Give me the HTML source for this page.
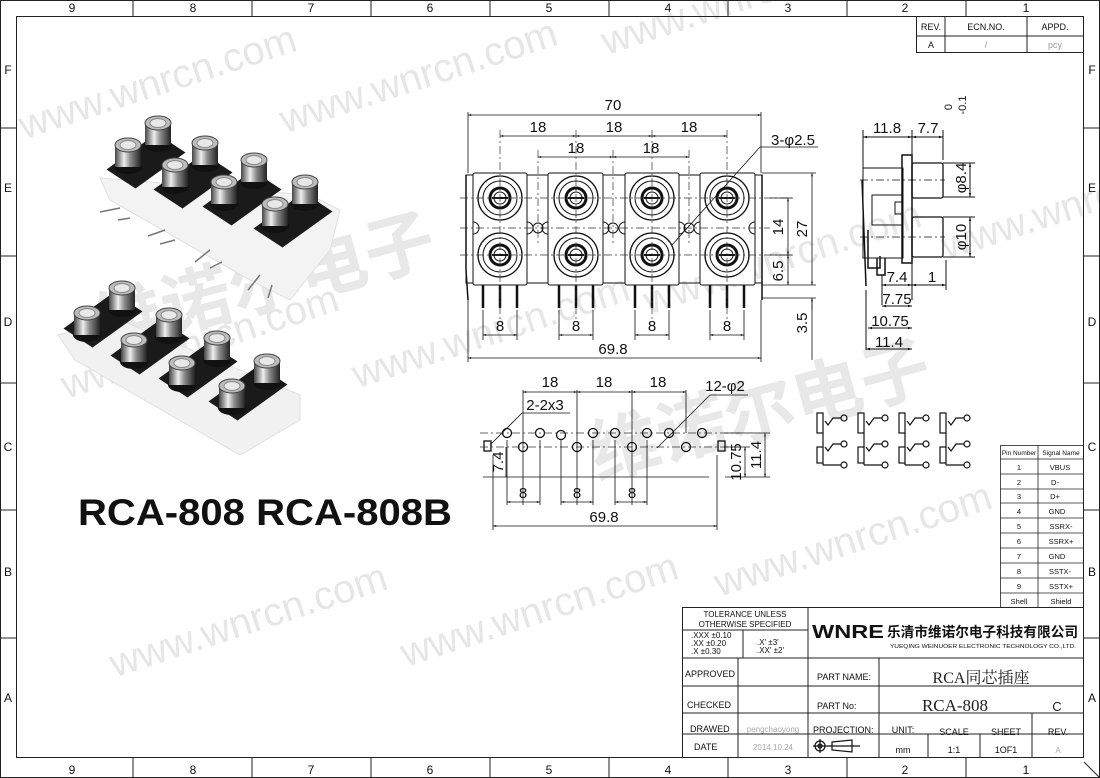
<!DOCTYPE html>
<html><head><meta charset="utf-8"><style>
html,body{margin:0;padding:0;background:#fff;}
svg{display:block;font-family:"Liberation Sans","Noto Sans CJK SC",sans-serif;}
.t{font-size:15px;fill:#111;}
.s{font-size:9px;fill:#111;}
.wm{font-size:40px;fill:#e6e6e6;}
</style></head><body>
<svg width="1100" height="778" viewBox="0 0 1100 778" xmlns="http://www.w3.org/2000/svg">
<defs>
<marker id="a" viewBox="0 0 10 10" refX="10" refY="5" markerWidth="8" markerHeight="4" orient="auto-start-reverse"><path d="M0,2L10,5L0,8z" fill="#111"/></marker>
<g id="jk" fill="none" stroke="#111">
<circle r="22" stroke-width="1.3"/><circle r="17"/><circle r="10" stroke-width="3"/><circle r="6"/><line x1="-8" y1="0" x2="8" y2="0" stroke-width="2"/>
</g>
<g id="sym" fill="none" stroke="#111" stroke-width="1.2">
<rect x="0" y="0" width="6" height="20"/><rect x="0" y="34" width="6" height="16"/>
<line x1="6" y1="50" x2="6" y2="52"/>
<polyline points="6,52 24,52"/><circle cx="27" cy="52" r="3"/>
<polyline points="8,8 11,12 16,5 24,5"/><circle cx="27" cy="5" r="3"/>
<polyline points="8,34 11,38 16,31 24,31"/><circle cx="27" cy="31" r="3"/>
<line x1="6" y1="20" x2="6" y2="34"/>
</g>
<linearGradient id="sil" x1="0" x2="1" y1="0" y2="0"><stop offset="0" stop-color="#444"/><stop offset="0.35" stop-color="#eee"/><stop offset="0.6" stop-color="#888"/><stop offset="1" stop-color="#222"/></linearGradient>
<g id="pj">
<ellipse cx="0" cy="2" rx="14" ry="7" fill="#111"/>
<rect x="-13" y="-20" width="26" height="22" fill="url(#sil)"/>
<ellipse cx="0" cy="-20" rx="13" ry="7" fill="#bdbdbd" stroke="#444" stroke-width="1"/>
<ellipse cx="0" cy="-20" rx="8" ry="4.5" fill="#e8e8e8" stroke="#888"/>
</g>
<g id="plate">
<polygon points="-39.5,8.5 10.5,-27.5 39.5,-8.5 -10.5,27.5" fill="#1a1a1a"/>
</g>
</defs>

<!-- watermarks -->
<g transform="rotate(-18)">
<text class="wm" x="-20" y="140">www.wnrcn.com</text>
<text class="wm" x="230" y="215">www.wnrcn.com</text>
<text class="wm" x="560" y="240">www.wnrcn.com</text>
<text class="wm" x="-60" y="400">www.wnrcn.com</text>
<text class="wm" x="220" y="480">www.wnrcn.com</text>
<text class="wm" x="520" y="500">www.wnrcn.com</text>
<text class="wm" x="820" y="540">www.wnrcn.com</text>
<text class="wm" x="-100" y="680">www.wnrcn.com</text>
<text class="wm" x="180" y="760">www.wnrcn.com</text>
<text class="wm" x="500" y="790">www.wnrcn.com</text>
</g>
<g transform="rotate(-15 250 250)"><text x="80" y="310" style="font-size:70px;fill:#e8e8e8;font-family:'Noto Sans CJK SC',sans-serif;font-weight:bold">维诺尔电子</text></g>
<g transform="rotate(-15 700 400)"><text x="580" y="450" style="font-size:70px;fill:#e8e8e8;font-family:'Noto Sans CJK SC',sans-serif;font-weight:bold">维诺尔电子</text></g>

<!-- frame -->
<g fill="none" stroke="#222" stroke-width="1">
<rect x="0.5" y="0.5" width="1099" height="777"/>
<rect x="16.5" y="16.5" width="1067" height="741"/>
<path d="M133 0V16M252 0V16M371 0V16M490 0V16M609 0V16M728 0V16M847 0V16M966 0V16
M133 758V778M252 758V778M371 758V778M490 758V778M609 758V778M728 758V778M847 758V778M966 758V778
M0 128H16M0 256H16M0 383H16M0 510H16M0 638H16M1084 128H1100M1084 256H1100M1084 383H1100M1084 510H1100M1084 638H1100
M1084 762L1100 778"/>
</g>
<g class="t" text-anchor="middle" style="font-size:12px">
<text x="72" y="12">9</text><text x="193" y="12">8</text><text x="311" y="12">7</text><text x="430" y="12">6</text><text x="549" y="12">5</text><text x="668" y="12">4</text><text x="788" y="12">3</text><text x="905" y="12">2</text><text x="1026" y="12">1</text>
<text x="72" y="774">9</text><text x="193" y="774">8</text><text x="311" y="774">7</text><text x="430" y="774">6</text><text x="549" y="774">5</text><text x="668" y="774">4</text><text x="788" y="774">3</text><text x="905" y="774">2</text><text x="1026" y="774">1</text>
<text x="8" y="74">F</text><text x="8" y="192">E</text><text x="8" y="326">D</text><text x="8" y="451">C</text><text x="8" y="576">B</text><text x="8" y="702">A</text>
<text x="1092" y="74">F</text><text x="1092" y="192">E</text><text x="1092" y="326">D</text><text x="1092" y="451">C</text><text x="1092" y="576">B</text><text x="1092" y="702">A</text>
</g>

<!-- revision block -->
<g fill="none" stroke="#222"><rect x="916.5" y="16.5" width="167" height="36"/><path d="M916 36H1084M945 16V52M1027 16V52"/></g>
<g class="s" text-anchor="middle"><text x="931" y="30">REV.</text><text x="986" y="30">ECN.NO.</text><text x="1055" y="30">APPD.</text>
<text x="931" y="48">A</text><text x="986" y="48" fill="#999">/</text><text x="1055" y="48" fill="#999">pcy</text></g>

<!-- photos -->
<g>
<polygon points="100,178 110,200 250,280 290,300 330,250 340,210 310,195" fill="#f3f3f3" stroke="#e0e0e0"/>
<g stroke="#777" stroke-width="1.5"><line x1="120" y1="208" x2="100" y2="212"/><line x1="130" y1="218" x2="118" y2="220"/><line x1="165" y1="230" x2="148" y2="236"/><line x1="175" y1="240" x2="160" y2="244"/><line x1="210" y1="250" x2="195" y2="262"/><line x1="222" y1="262" x2="210" y2="268"/><line x1="260" y1="275" x2="248" y2="290"/><line x1="272" y1="285" x2="268" y2="298"/></g>
<use href="#plate" x="146" y="161"/><use href="#plate" x="193" y="181"/><use href="#plate" x="242" y="198"/><use href="#plate" x="293" y="220"/>
<use href="#pj" x="158" y="143"/><use href="#pj" x="128" y="165"/>
<use href="#pj" x="205" y="163"/><use href="#pj" x="175" y="185"/>
<use href="#pj" x="254" y="180"/><use href="#pj" x="224" y="202"/>
<use href="#pj" x="305" y="202"/><use href="#pj" x="275" y="224"/>
</g>
<g>
<polygon points="58,335 75,360 240,455 300,420 300,395 120,320" fill="#f1f1f1" stroke="#e0e0e0"/>
<use href="#plate" x="103" y="320"/><use href="#plate" x="150" y="347"/><use href="#plate" x="198" y="370"/><use href="#plate" x="248" y="393"/>
<use href="#pj" x="122" y="308"/><use href="#pj" x="87" y="333"/>
<use href="#pj" x="169" y="335"/><use href="#pj" x="134" y="360"/>
<use href="#pj" x="217" y="358"/><use href="#pj" x="182" y="383"/>
<use href="#pj" x="267" y="381"/><use href="#pj" x="232" y="406"/>
</g>
<text x="78" y="525" textLength="374" lengthAdjust="spacingAndGlyphs" style="font-size:37px;font-weight:bold;fill:#111">RCA-808  RCA-808B</text>

<!-- front view -->
<g fill="none" stroke="#111" stroke-width="1">
<rect x="466" y="175" width="296" height="108"/>
<rect x="473" y="173" width="54" height="112" fill="#fff" rx="2"/>
<rect x="548" y="173" width="55" height="112" fill="#fff" rx="2"/>
<rect x="625" y="173" width="54" height="112" fill="#fff" rx="2"/>
<rect x="700" y="173" width="55" height="112" fill="#fff" rx="2"/>
<path d="M466 175V270M466 270L468 300M762 175V300" stroke-width="1.5"/>
<circle cx="538" cy="228" r="5"/><circle cx="613" cy="228" r="5"/><circle cx="689" cy="228" r="5"/>
<path d="M527 222a6 6 0 0 1 0 12M548 222a6 6 0 0 0 0 12M603 222a6 6 0 0 1 0 12M625 222a6 6 0 0 0 0 12M679 222a6 6 0 0 1 0 12M700 222a6 6 0 0 0 0 12M473 222a6 6 0 0 1 0 12M755 222a6 6 0 0 0 0 12"/>
</g>
<use href="#jk" x="500" y="198"/><use href="#jk" x="576" y="198"/><use href="#jk" x="652" y="198"/><use href="#jk" x="727" y="198"/>
<use href="#jk" x="500" y="255"/><use href="#jk" x="576" y="255"/><use href="#jk" x="652" y="255"/><use href="#jk" x="727" y="255"/>
<g stroke="#111" stroke-width="2.5">
<path d="M483 285V308M500 285V308M517 285V308M559 285V308M576 285V308M593 285V308M635 285V308M652 285V308M669 285V308M710 285V308M727 285V308M744 285V308"/>
</g>
<g stroke="#333" stroke-width="0.7" stroke-dasharray="8 3 2 3" fill="none">
<path d="M460 198H795M460 228H770M460 255H795M500 130V320M576 130V320M652 130V320M727 130V320M538 150V245M613 150V245M689 150V245"/>
</g>
<g stroke="#111" stroke-width="0.8" fill="none">
<path d="M468 112V173M761 112V173M468 300V362M761 300V362M483 310V340M517 310V340M559 310V340M593 310V340M635 310V340M669 310V340M710 310V340M744 310V340M762 173H816M762 285H816M770 198H792M770 255H792M762 298H816"/>
<line x1="468" y1="115" x2="761" y2="115" marker-start="url(#a)" marker-end="url(#a)"/>
<line x1="500" y1="136" x2="576" y2="136" marker-start="url(#a)" marker-end="url(#a)"/>
<line x1="576" y1="136" x2="652" y2="136" marker-start="url(#a)" marker-end="url(#a)"/>
<line x1="652" y1="136" x2="727" y2="136" marker-start="url(#a)" marker-end="url(#a)"/>
<line x1="538" y1="157" x2="613" y2="157" marker-start="url(#a)" marker-end="url(#a)"/>
<line x1="613" y1="157" x2="689" y2="157" marker-start="url(#a)" marker-end="url(#a)"/>
<line x1="812" y1="173" x2="812" y2="285" marker-start="url(#a)" marker-end="url(#a)"/>
<line x1="788" y1="198" x2="788" y2="255" marker-start="url(#a)" marker-end="url(#a)"/>
<line x1="788" y1="255" x2="788" y2="285" marker-start="url(#a)" marker-end="url(#a)"/>
<line x1="812" y1="310" x2="812" y2="298" marker-end="url(#a)"/><line x1="812" y1="298" x2="812" y2="360"/>
<line x1="483" y1="335" x2="517" y2="335" marker-start="url(#a)" marker-end="url(#a)"/>
<line x1="559" y1="335" x2="593" y2="335" marker-start="url(#a)" marker-end="url(#a)"/>
<line x1="635" y1="335" x2="669" y2="335" marker-start="url(#a)" marker-end="url(#a)"/>
<line x1="710" y1="335" x2="744" y2="335" marker-start="url(#a)" marker-end="url(#a)"/>
<line x1="468" y1="358" x2="761" y2="358" marker-start="url(#a)" marker-end="url(#a)"/>
<polyline points="818,147 760,147 672,245"/>
</g>
<g class="t" text-anchor="middle">
<text x="613" y="110">70</text><text x="538" y="132">18</text><text x="614" y="132">18</text><text x="689" y="132">18</text>
<text x="576" y="153">18</text><text x="651" y="153">18</text>
<text x="500" y="331">8</text><text x="576" y="331">8</text><text x="652" y="331">8</text><text x="727" y="331">8</text>
<text x="613" y="354">69.8</text><text x="793" y="145">3-φ2.5</text>
<text transform="translate(807,229) rotate(-90)">27</text>
<text transform="translate(783,227) rotate(-90)">14</text>
<text transform="translate(783,271) rotate(-90)">6.5</text>
<text transform="translate(807,323) rotate(-90)">3.5</text>
</g>

<!-- side view -->
<g fill="none" stroke="#111" stroke-width="1">
<rect x="863" y="168" width="40" height="90"/>
<rect x="872" y="195" width="30" height="30"/>
<rect x="902" y="155" width="10" height="108" stroke-width="1.5"/>
<rect x="912" y="163" width="31" height="35" rx="2" stroke-width="1.3"/>
<rect x="912" y="217" width="31" height="40" rx="2" stroke-width="1.3"/>
<rect x="895" y="202" width="8" height="12"/>
<path d="M862 180L866 286M868 230V268H880V256M877 258V275H885V258" stroke-width="1.5"/>
<path d="M860 180H945M860 237H945" stroke-dasharray="8 3 2 3" stroke-width="0.7"/>
<path d="M863 130V168M912 130V155M943 130V160M943 163H975M943 197H975M943 217H975M943 257H975M866 290V350M882 275V305M912 260V300M946 260V290"/>
<line x1="863" y1="137" x2="912" y2="137" marker-start="url(#a)" marker-end="url(#a)"/>
<line x1="912" y1="137" x2="943" y2="137" marker-start="url(#a)" marker-end="url(#a)"/>
<line x1="970" y1="163" x2="970" y2="197" marker-start="url(#a)" marker-end="url(#a)"/>
<line x1="970" y1="217" x2="970" y2="257" marker-start="url(#a)" marker-end="url(#a)"/>
<line x1="882" y1="285" x2="912" y2="285" marker-start="url(#a)" marker-end="url(#a)"/>
<line x1="912" y1="285" x2="946" y2="285" marker-start="url(#a)" marker-end="url(#a)"/>
<line x1="882" y1="306" x2="912" y2="306" marker-start="url(#a)" marker-end="url(#a)"/>
<line x1="868" y1="328" x2="912" y2="328" marker-start="url(#a)" marker-end="url(#a)"/>
<line x1="866" y1="349" x2="912" y2="349" marker-start="url(#a)" marker-end="url(#a)"/>
</g>
<g class="t" text-anchor="middle">
<text x="887" y="133">11.8</text><text x="928" y="133">7.7</text>
<text x="897" y="282">7.4</text><text x="932" y="282">1</text>
<text x="897" y="304">7.75</text><text x="890" y="326">10.75</text><text x="889" y="347">11.4</text>
<text transform="translate(966,178) rotate(-90)">φ8.4</text>
<text transform="translate(952,107) rotate(-90)" style="font-size:11px">0</text>
<text transform="translate(966,105) rotate(-90)" style="font-size:11px">-0.1</text>
<text transform="translate(966,237) rotate(-90)">φ10</text>
</g>

<!-- bottom view -->
<g fill="none" stroke="#111" stroke-width="1.3">
<circle cx="507" cy="433" r="4.5"/><circle cx="540" cy="433" r="4.5"/><circle cx="561" cy="435" r="4.5"/><circle cx="593" cy="433" r="4.5"/><circle cx="615" cy="433" r="4.5"/><circle cx="647" cy="433" r="4.5"/><circle cx="669" cy="433" r="4.5"/><circle cx="702" cy="433" r="4.5"/>
<circle cx="523" cy="447" r="4.5"/><circle cx="577" cy="447" r="4.5"/><circle cx="632" cy="447" r="4.5"/><circle cx="686" cy="447" r="4.5"/>
<rect x="484" y="441" width="7" height="10"/><rect x="718" y="441" width="7" height="10"/>
</g>
<g stroke="#333" stroke-width="0.7" fill="none" stroke-dasharray="8 3 2 3"><path d="M480 433H740M480 447H740"/></g>
<g stroke="#111" stroke-width="0.8" fill="none">
<path d="M483 477H709M523 390V505M577 390V505M632 390V505M686 390V433M507 440V505M540 440V505M561 440V505M593 440V505M615 440V505M647 440V505M493 455V530M717 455V530M724 433H770M724 447H750M725 477H770"/>
<line x1="523" y1="392" x2="577" y2="392" marker-start="url(#a)" marker-end="url(#a)"/>
<line x1="577" y1="392" x2="632" y2="392" marker-start="url(#a)" marker-end="url(#a)"/>
<line x1="632" y1="392" x2="686" y2="392" marker-start="url(#a)" marker-end="url(#a)"/>
<line x1="507" y1="502" x2="540" y2="502" marker-start="url(#a)" marker-end="url(#a)"/>
<line x1="561" y1="502" x2="593" y2="502" marker-start="url(#a)" marker-end="url(#a)"/>
<line x1="615" y1="502" x2="647" y2="502" marker-start="url(#a)" marker-end="url(#a)"/>
<line x1="493" y1="526" x2="717" y2="526" marker-start="url(#a)" marker-end="url(#a)"/>
<line x1="745" y1="447" x2="745" y2="477" marker-start="url(#a)" marker-end="url(#a)"/>
<line x1="765" y1="433" x2="765" y2="477" marker-start="url(#a)" marker-end="url(#a)"/>
<line x1="506" y1="447" x2="506" y2="477"/>
<polyline points="570,413 522,413 490,445"/>
<polyline points="748,395 710,395 657,448"/>
</g>
<g class="t" text-anchor="middle">
<text x="550" y="387">18</text><text x="604" y="387">18</text><text x="658" y="387">18</text>
<text x="545" y="410">2-2x3</text><text x="725" y="391">12-φ2</text>
<text x="523" y="498">8</text><text x="577" y="498">8</text><text x="632" y="498">8</text>
<text x="604" y="522">69.8</text>
<text transform="translate(503,462) rotate(-90)">7.4</text>
<text transform="translate(741,462) rotate(-90)">10.75</text>
<text transform="translate(761,455) rotate(-90)">11.4</text>
</g>

<!-- schematic -->
<use href="#sym" x="817" y="413"/><use href="#sym" x="858" y="413"/><use href="#sym" x="899" y="413"/><use href="#sym" x="940" y="413"/>

<!-- pin table -->
<g fill="none" stroke="#222" stroke-width="0.8">
<rect x="1000.5" y="445.5" width="83" height="162"/>
<path d="M1038 445V608M1000 459H1084M1000 474H1084M1000 489H1084M1000 503H1084M1000 518H1084M1000 533H1084M1000 548H1084M1000 563H1084M1000 578H1084M1000 593H1084"/>
</g>
<g style="font-size:7.5px" fill="#111" text-anchor="middle">
<text x="1019" y="455" style="font-size:6.5px">Pin Number</text><text x="1061" y="455" style="font-size:6.5px">Signal Name</text>
<text x="1019" y="470">1</text><text x="1060" y="470">VBUS</text>
<text x="1019" y="485">2</text><text x="1055" y="485">D-</text>
<text x="1019" y="499">3</text><text x="1055" y="499">D+</text>
<text x="1019" y="514">4</text><text x="1057" y="514">GND</text>
<text x="1019" y="529">5</text><text x="1061" y="529">SSRX-</text>
<text x="1019" y="544">6</text><text x="1061" y="544">SSRX+</text>
<text x="1019" y="559">7</text><text x="1057" y="559">GND</text>
<text x="1019" y="574">8</text><text x="1060" y="574">SSTX-</text>
<text x="1019" y="589">9</text><text x="1061" y="589">SSTX+</text>
<text x="1019" y="604">Shell</text><text x="1061" y="604">Shield</text>
</g>

<!-- title block -->
<rect x="683" y="608" width="400" height="149" fill="#fff"/>
<g fill="none" stroke="#222" stroke-width="1">
<rect x="682.5" y="607.5" width="401" height="150"/>
<path d="M682 658H879M808 607V758M879 658V758M682 686H1084M682 713H1084M682 734H1084M738 658V758M928 734V758M980 734V758M1032 713V758M682 630H808M743 630V658M808 658H1084"/>
</g>
<g style="font-size:8px" fill="#111">
<text x="745" y="617" text-anchor="middle">TOLERANCE UNLESS</text>
<text x="745" y="627" text-anchor="middle">OTHERWISE SPECIFIED</text>
<text x="691" y="638">.XXX  ±0.10</text><text x="691" y="646">.XX    ±0.20</text><text x="691" y="654">.X      ±0.30</text>
<text x="757" y="645">.X'      ±3'</text><text x="757" y="653">.XX'    ±2'</text>
<text x="685" y="677" style="font-size:9px">APPROVED</text>
<text x="687" y="708" style="font-size:9px">CHECKED</text>
<text x="690" y="732" style="font-size:9px">DRAWED</text>
<text x="694" y="750" style="font-size:9px">DATE</text>
<text x="773" y="732" fill="#aaa" text-anchor="middle">pengchaoyong</text>
<text x="773" y="750" fill="#aaa" text-anchor="middle">2014.10.24</text>
<text x="817" y="680" style="font-size:9px">PART  NAME:</text>
<text x="817" y="709" style="font-size:9px">PART  No:</text>
<text x="813" y="733" style="font-size:9px">PROJECTION:</text>
<text x="903" y="733" text-anchor="middle" style="font-size:9px">UNIT:</text>
<text x="954" y="735" text-anchor="middle" style="font-size:9px">SCALE</text>
<text x="1006" y="735" text-anchor="middle" style="font-size:9px">SHEET</text>
<text x="1058" y="735" text-anchor="middle" style="font-size:9px">REV.</text>
<text x="903" y="753" text-anchor="middle" style="font-size:9px">mm</text>
<text x="954" y="753" text-anchor="middle" style="font-size:9px">1:1</text>
<text x="1006" y="753" text-anchor="middle" style="font-size:9px">1OF1</text>
<text x="1058" y="753" text-anchor="middle" fill="#aaa">A</text>
</g>
<text x="981" y="683" text-anchor="middle" style="font-size:16px;font-family:'Liberation Serif','Noto Serif CJK SC',serif;fill:#222">RCA同芯插座</text>
<text x="955" y="711" text-anchor="middle" style="font-size:17px;font-family:'Liberation Serif',serif;fill:#222">RCA-808</text>
<text x="1057" y="711" text-anchor="middle" style="font-size:13px;fill:#222">C</text>
<text x="812" y="638" textLength="72" lengthAdjust="spacingAndGlyphs" style="font-size:18px;font-weight:bold;fill:#111">WNRE</text>
<text x="887" y="637" textLength="191" lengthAdjust="spacingAndGlyphs" style="font-size:14px;font-weight:bold;fill:#111;font-family:'Noto Sans CJK SC',sans-serif">乐清市维诺尔电子科技有限公司</text>
<text x="890" y="648" textLength="186" lengthAdjust="spacingAndGlyphs" style="font-size:5.5px;fill:#111">YUEQING WEINUOER ELECTRONIC TECHNOLOGY CO.,LTD.</text>
<g fill="none" stroke="#111" stroke-width="1.2">
<circle cx="820" cy="746" r="5"/><circle cx="820" cy="746" r="2"/><path d="M813 746H860M820 739V753M832 742L852 740V752L832 750Z"/>
</g>
</svg>
</body></html>
